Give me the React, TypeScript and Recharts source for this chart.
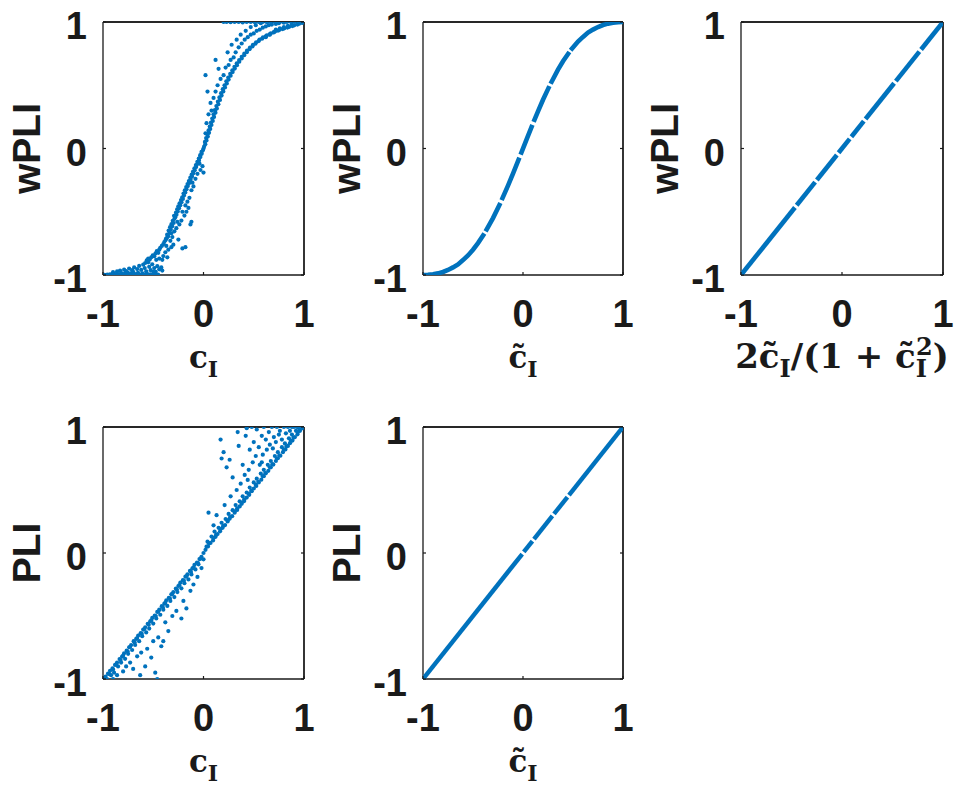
import React from 'react';
import { ScatterChart, Scatter, XAxis, YAxis, ReferenceLine } from 'recharts';

const BLUE = '#0072BD';
const INK = '#1a1a1a';
const AXIS_TICKS = [-1, 0, 1];
const Y_LABELS = ['wPLI', 'wPLI', 'wPLI', 'PLI', 'PLI'];

// Panel 1: wPLI vs c_I (scatter)
const wpliVsCi: [number, number][] = [
  // dense strip along the bottom
  [-1, -1], [-0.985, -0.999], [-0.972, -1], [-0.958, -0.996], [-0.947, -1], [-0.931, -0.994], [-0.918, -0.999],
  [-0.903, -0.991], [-0.889, -1], [-0.874, -0.996], [-0.861, -0.988], [-0.846, -1], [-0.83, -0.993], [-0.817, -0.985],
  [-0.802, -0.998], [-0.788, -0.99], [-0.771, -1], [-0.757, -0.982], [-0.742, -0.995], [-0.729, -0.987], [-0.713, -1],
  [-0.698, -0.978], [-0.684, -0.992], [-0.667, -0.999], [-0.652, -0.983], [-0.638, -0.994], [-0.621, -1],
  [-0.607, -0.986], [-0.593, -0.997], [-0.578, -1], [-0.561, -0.99], [-0.546, -1], [-0.53, -0.994], [-0.512, -1],
  [-0.497, -0.996], [-0.478, -1], [-0.463, -1], [-0.452, -0.997],
  [-0.9, -0.978], [-0.86, -0.972], [-0.83, -0.965], [-0.79, -0.958], [-0.77, -0.97], [-0.74, -0.949], [-0.71, -0.962],
  [-0.69, -0.94], [-0.66, -0.953], [-0.64, -0.928], [-0.62, -0.96], [-0.6, -0.918], [-0.585, -0.945], [-0.57, -0.972],
  [-0.55, -0.9], [-0.54, -0.935], [-0.525, -0.962], [-0.51, -0.915], [-0.49, -0.945], [-0.475, -0.975], [-0.46, -0.93],
  [-0.44, -0.955], [-0.42, -0.94], [-0.5, -0.975], [-0.41, -0.965],
  // lower band
  [-0.58, -0.905], [-0.565, -0.885], [-0.55, -0.87], [-0.535, -0.878], [-0.52, -0.86], [-0.505, -0.845],
  [-0.49, -0.852], [-0.478, -0.83], [-0.465, -0.812], [-0.45, -0.825], [-0.44, -0.8], [-0.43, -0.785],
  [-0.415, -0.77], [-0.4, -0.756], [-0.39, -0.74], [-0.378, -0.725], [-0.365, -0.708],
  [-0.47, -0.88], [-0.44, -0.87], [-0.41, -0.88], [-0.4, -0.85], [-0.36, -0.86], [-0.38, -0.82], [-0.35, -0.8],
  [-0.32, -0.78], [-0.37, -0.77], [-0.3, -0.76], [-0.21, -0.79], [-0.18, -0.78], [-0.33, -0.73], [-0.25, -0.72],
  [-0.372, -0.712], [-0.351, -0.694], [-0.362, -0.681], [-0.338, -0.667], [-0.347, -0.649], [-0.326, -0.641],
  [-0.333, -0.622], [-0.311, -0.615], [-0.319, -0.598], [-0.297, -0.589], [-0.306, -0.571], [-0.289, -0.556],
  [-0.281, -0.543], [-0.293, -0.532], [-0.269, -0.524], [-0.274, -0.507], [-0.256, -0.498], [-0.262, -0.481],
  [-0.243, -0.472], [-0.251, -0.458], [-0.231, -0.449], [-0.238, -0.433], [-0.219, -0.424], [-0.224, -0.408],
  [-0.205, -0.399], [-0.212, -0.386], [-0.194, -0.371], [-0.199, -0.356], [-0.181, -0.347], [-0.186, -0.331],
  [-0.169, -0.322], [-0.172, -0.305], [-0.156, -0.297], [-0.159, -0.281], [-0.141, -0.272], [-0.146, -0.257],
  [-0.129, -0.246], [-0.131, -0.231], [-0.114, -0.222], [-0.118, -0.207], [-0.101, -0.196], [-0.104, -0.182],
  [-0.087, -0.171], [-0.09, -0.156], [-0.073, -0.146], [-0.076, -0.131], [-0.059, -0.12], [-0.061, -0.105],
  [-0.045, -0.094], [-0.047, -0.079], [-0.031, -0.068], [-0.033, -0.053], [-0.018, -0.041], [-0.02, -0.027],
  [-0.006, -0.014], [0, 0],
  [-0.32, -0.67], [-0.29, -0.655], [-0.31, -0.7], [-0.27, -0.63], [-0.24, -0.6], [-0.26, -0.58], [-0.22, -0.57],
  [-0.13, -0.6], [-0.12, -0.58], [-0.19, -0.53], [-0.17, -0.5], [-0.21, -0.5], [-0.15, -0.47], [-0.18, -0.45],
  [-0.16, -0.42], [-0.14, -0.39], [-0.12, -0.33], [-0.1, -0.3], [-0.11, -0.27], [-0.08, -0.24], [-0.06, -0.2],
  [-0.03, -0.17], [-0.01, -0.14], [0.0, -0.19], [-0.04, -0.12],
  // upper band
  [0.006, 0.016], [0.018, 0.034], [0.014, 0.052], [0.03, 0.064], [0.026, 0.083], [0.043, 0.094], [0.038, 0.112],
  [0.055, 0.124], [0.05, 0.143], [0.067, 0.155], [0.062, 0.174], [0.079, 0.186], [0.074, 0.205], [0.092, 0.218],
  [0.087, 0.237], [0.105, 0.25], [0.1, 0.27], [0.119, 0.283], [0.113, 0.303], [0.133, 0.316], [0.128, 0.336],
  [0.148, 0.35], [0.143, 0.37], [0.164, 0.384], [0.158, 0.404], [0.18, 0.418], [0.175, 0.437], [0.197, 0.451],
  [0.192, 0.469], [0.214, 0.483], [0.209, 0.5], [0.232, 0.514], [0.227, 0.531], [0.25, 0.545], [0.246, 0.561],
  [0.27, 0.575], [0.266, 0.59], [0.29, 0.604], [0.287, 0.618], [0.311, 0.632], [0.308, 0.646], [0.333, 0.659],
  [0.331, 0.673], [0.356, 0.686], [0.355, 0.699], [0.38, 0.712], [0.38, 0.725], [0.405, 0.737], [0.406, 0.75],
  [0.431, 0.761], [0.433, 0.774], [0.458, 0.785], [0.462, 0.797], [0.487, 0.807], [0.492, 0.819], [0.517, 0.829],
  [0.524, 0.84], [0.549, 0.849], [0.557, 0.86], [0.583, 0.868], [0.592, 0.878], [0.619, 0.886], [0.63, 0.895],
  [0.657, 0.902], [0.67, 0.91], [0.698, 0.917], [0.712, 0.925], [0.741, 0.931], [0.757, 0.938], [0.787, 0.944],
  [0.804, 0.95], [0.835, 0.956], [0.853, 0.962], [0.884, 0.968], [0.903, 0.974], [0.935, 0.98], [0.952, 0.986],
  [0.98, 0.993], [1, 1],
  [0.02, 0.12], [0.03, 0.2], [0.05, 0.27], [0.08, 0.3], [0.07, 0.36], [0.1, 0.4], [0.04, 0.45], [0.12, 0.45],
  [0.14, 0.5], [0.02, 0.58], [0.17, 0.55], [0.2, 0.58], [0.15, 0.63], [0.22, 0.64], [0.25, 0.66], [0.12, 0.7],
  [0.27, 0.7], [0.3, 0.72], [0.24, 0.76], [0.32, 0.76], [0.35, 0.8], [0.28, 0.82], [0.38, 0.83], [0.33, 0.86],
  [0.41, 0.86], [0.44, 0.88], [0.37, 0.9], [0.47, 0.9], [0.5, 0.91], [0.42, 0.93], [0.53, 0.93], [0.56, 0.94],
  [0.47, 0.96], [0.59, 0.955], [0.62, 0.965], [0.52, 0.975], [0.65, 0.975], [0.68, 0.98], [0.72, 0.985],
  [0.57, 0.99], [0.75, 0.99], [0.8, 0.995],
  [0.62, 0.88], [0.66, 0.9], [0.7, 0.92], [0.72, 0.94], [0.76, 0.95], [0.8, 0.96], [0.84, 0.97], [0.88, 0.98],
  // strip along the top
  [0.2, 1], [0.23, 1], [0.27, 0.998], [0.31, 1], [0.35, 1], [0.39, 0.997], [0.43, 1], [0.47, 1], [0.51, 0.998],
  [0.55, 1], [0.59, 1], [0.63, 0.998], [0.67, 1], [0.71, 1], [0.75, 1], [0.79, 1], [0.83, 1], [0.87, 1], [0.91, 1],
  [0.95, 1],
];

// Panel 4: PLI vs c_I (scatter)
const pliVsCi: [number, number][] = [
  [-1, -1], [-0.975, -0.98], [-0.95, -0.958], [-0.93, -0.935], [-0.905, -0.915], [-0.88, -0.888], [-0.86, -0.87],
  [-0.835, -0.842], [-0.81, -0.822], [-0.79, -0.796], [-0.765, -0.775], [-0.74, -0.748], [-0.72, -0.73],
  [-0.695, -0.7], [-0.67, -0.682], [-0.65, -0.655], [-0.625, -0.636], [-0.6, -0.608], [-0.58, -0.59],
  [-0.555, -0.562], [-0.53, -0.542], [-0.51, -0.515], [-0.485, -0.496], [-0.46, -0.468], [-0.44, -0.45],
  [-0.415, -0.422], [-0.39, -0.402], [-0.37, -0.375], [-0.345, -0.356], [-0.32, -0.328], [-0.3, -0.31],
  [-0.275, -0.282], [-0.25, -0.262], [-0.23, -0.235], [-0.205, -0.216], [-0.18, -0.188], [-0.16, -0.17],
  [-0.135, -0.142], [-0.11, -0.122], [-0.09, -0.095], [-0.065, -0.076], [-0.04, -0.048], [-0.02, -0.03],
  [-0.985, -1], [-0.94, -0.96], [-0.9, -0.925], [-0.87, -0.885], [-0.825, -0.85], [-0.8, -0.815], [-0.755, -0.78],
  [-0.73, -0.745], [-0.685, -0.71], [-0.66, -0.675], [-0.615, -0.64], [-0.59, -0.605], [-0.545, -0.57],
  [-0.52, -0.535], [-0.475, -0.5], [-0.45, -0.465], [-0.405, -0.43], [-0.38, -0.395], [-0.335, -0.36],
  [-0.31, -0.325], [-0.265, -0.29], [-0.24, -0.255], [-0.195, -0.22], [-0.17, -0.185], [-0.125, -0.15],
  [-0.1, -0.115], [-0.055, -0.08], [-0.03, -0.045],
  [-0.96, -1], [-0.92, -0.97], [-0.89, -0.95], [-0.85, -0.9], [-0.82, -0.87], [-0.78, -0.84], [-0.75, -0.8],
  [-0.71, -0.77], [-0.68, -0.73], [-0.64, -0.7], [-0.61, -0.66], [-0.57, -0.63], [-0.54, -0.6], [-0.5, -0.56],
  [-0.47, -0.52], [-0.43, -0.49], [-0.4, -0.45], [-0.36, -0.42], [-0.33, -0.38], [-0.29, -0.35], [-0.26, -0.31],
  [-0.22, -0.28], [-0.19, -0.24], [-0.15, -0.21], [-0.12, -0.17], [-0.08, -0.13], [-0.05, -0.09],
  [-0.9, -1], [-0.86, -0.97], [-0.8, -0.94], [-0.77, -0.9], [-0.73, -0.87], [-0.7, -0.92], [-0.66, -0.82],
  [-0.63, -0.97], [-0.62, -0.79], [-0.58, -0.9], [-0.56, -0.76], [-0.52, -0.83], [-0.5, -0.7], [-0.48, -0.95],
  [-0.46, -1], [-0.45, -0.67], [-0.42, -0.74], [-0.4, -0.7], [-0.38, -0.55], [-0.35, -0.62], [-0.31, -0.5],
  [-0.27, -0.46], [-0.22, -0.52], [-0.2, -0.38], [-0.17, -0.44], [-0.13, -0.3], [-0.1, -0.25], [-0.06, -0.19],
  [-0.02, -0.12], [0, -0.05],
  [0, 0], [0.02, 0.025], [0.045, 0.052], [0.07, 0.08], [0.095, 0.1], [0.12, 0.128], [0.14, 0.15], [0.165, 0.172],
  [0.19, 0.2], [0.215, 0.222], [0.24, 0.25], [0.26, 0.272], [0.285, 0.292], [0.31, 0.32], [0.335, 0.342],
  [0.36, 0.37], [0.38, 0.39], [0.405, 0.412], [0.43, 0.44], [0.455, 0.462], [0.48, 0.49], [0.5, 0.512],
  [0.525, 0.532], [0.55, 0.56], [0.575, 0.582], [0.6, 0.61], [0.62, 0.632], [0.645, 0.652], [0.67, 0.68],
  [0.695, 0.702], [0.72, 0.73], [0.74, 0.752], [0.765, 0.772], [0.79, 0.8], [0.815, 0.822], [0.84, 0.85],
  [0.86, 0.872], [0.885, 0.892], [0.91, 0.92], [0.935, 0.942], [0.96, 0.97], [0.98, 0.99], [1, 1],
  [0.03, 0.05], [0.055, 0.075], [0.1, 0.12], [0.125, 0.145], [0.17, 0.19], [0.195, 0.215], [0.24, 0.26],
  [0.265, 0.285], [0.31, 0.33], [0.335, 0.355], [0.38, 0.4], [0.405, 0.425], [0.45, 0.47], [0.475, 0.495],
  [0.52, 0.54], [0.545, 0.565], [0.59, 0.61], [0.615, 0.635], [0.66, 0.68], [0.685, 0.705], [0.73, 0.75],
  [0.755, 0.775], [0.8, 0.82], [0.825, 0.845], [0.87, 0.89], [0.895, 0.915], [0.94, 0.96], [0.965, 0.985],
  [0.04, 0.09], [0.08, 0.13], [0.11, 0.17], [0.15, 0.2], [0.18, 0.24], [0.22, 0.27], [0.25, 0.31], [0.29, 0.34],
  [0.32, 0.38], [0.36, 0.41], [0.39, 0.45], [0.43, 0.48], [0.46, 0.52], [0.5, 0.56], [0.53, 0.59], [0.57, 0.63],
  [0.6, 0.66], [0.64, 0.7], [0.67, 0.73], [0.71, 0.77], [0.74, 0.8], [0.78, 0.84], [0.81, 0.87], [0.85, 0.91],
  [0.88, 0.94], [0.92, 0.97],
  [0.05, 0.32], [0.1, 0.22], [0.13, 0.3], [0.17, 0.9], [0.18, 0.75], [0.2, 0.8], [0.21, 0.38], [0.23, 0.68],
  [0.26, 0.74], [0.27, 0.45], [0.29, 0.6], [0.33, 0.5], [0.34, 0.96], [0.35, 0.85], [0.37, 0.55], [0.39, 0.7],
  [0.41, 0.62], [0.42, 0.93], [0.43, 0.99], [0.45, 0.66], [0.46, 0.82], [0.48, 1], [0.49, 0.72], [0.5, 0.88],
  [0.52, 0.77], [0.53, 0.98], [0.55, 0.84], [0.56, 0.7], [0.58, 0.93], [0.59, 0.78], [0.6, 1], [0.62, 0.9],
  [0.63, 0.82], [0.65, 0.96], [0.66, 0.86], [0.68, 1], [0.69, 0.83], [0.7, 0.92], [0.72, 0.88], [0.73, 1],
  [0.75, 0.94], [0.76, 0.97], [0.78, 0.9], [0.8, 1], [0.82, 0.95], [0.84, 1], [0.86, 0.97], [0.88, 1], [0.9, 1],
  [0.93, 1], [0.95, 0.99], [0.58, 0.72], [0.44, 0.58],
];

// Panel 2: wPLI vs c~_I (continuous curve with small gaps)
const wpliVsCt: [number, number][][] = [
  [[-1, -1], [-0.95, -0.999], [-0.9, -0.994], [-0.85, -0.987], [-0.8, -0.976], [-0.75, -0.96], [-0.7, -0.94],
    [-0.65, -0.916], [-0.6, -0.882], [-0.55, -0.845], [-0.5, -0.8], [-0.45, -0.748], [-0.386, -0.672]],
  [[-0.374, -0.656], [-0.3, -0.55], [-0.226, -0.43]],
  [[-0.214, -0.408], [-0.15, -0.293], [-0.1, -0.198], [-0.036, -0.072]],
  [[-0.024, -0.048], [0.04, 0.08], [0.094, 0.187]],
  [[0.106, 0.21], [0.15, 0.293], [0.2, 0.385], [0.264, 0.493]],
  [[0.276, 0.512], [0.35, 0.624], [0.4, 0.69], [0.464, 0.763]],
  [[0.476, 0.776], [0.55, 0.845], [0.6, 0.882], [0.65, 0.916], [0.7, 0.94], [0.75, 0.96], [0.8, 0.976],
    [0.85, 0.987], [0.9, 0.994], [0.95, 0.999], [1, 1]],
];

// Panel 3: wPLI vs 2c~/(1+c~^2) (straight line with small gaps)
const wpliVsRatio: [number, number][][] = [
  [[-1, -1], [-0.466, -0.466]],
  [[-0.449, -0.449], [-0.266, -0.266]],
  [[-0.249, -0.249], [-0.051, -0.051]],
  [[-0.034, -0.034], [0.076, 0.076]],
  [[0.093, 0.093], [0.216, 0.216]],
  [[0.233, 0.233], [0.516, 0.516]],
  [[0.533, 0.533], [0.766, 0.766]],
  [[0.783, 0.783], [1, 1]],
];

// Panel 5: PLI vs c~_I (straight line with small gaps)
const pliVsCt: [number, number][][] = [
  [[-1, -1], [-0.008, -0.008]],
  [[0.008, 0.008], [0.094, 0.094]],
  [[0.11, 0.11], [0.294, 0.294]],
  [[0.31, 0.31], [0.444, 0.444]],
  [[0.46, 0.46], [1, 1]],
];

const toPts = (arr: [number, number][]) => arr.map(([x, y]) => ({ x, y }));

const SANS = "Arial, 'Liberation Sans', Helvetica, sans-serif";
const SERIF = "'DejaVu Serif', serif";

const tickText = { fontFamily: SANS, fontWeight: 700, fontSize: 38, fill: INK } as const;
const fmt = (v: number) => (v < 0 ? '-' + Math.abs(v) : String(v));

const BottomTick = (props: any) => {
  const { x, y, payload } = props;
  return (
    <g>
      <line x1={x} x2={x} y1={y} y2={y - 3} stroke={INK} strokeWidth={1.2} />
      <text x={x} y={y + 52} textAnchor="middle" style={{ fontFamily: SANS }} {...tickText}>{fmt(payload.value)}</text>
    </g>
  );
};
const LeftTick = (props: any) => {
  const { x, y, payload } = props;
  return (
    <g>
      <line x1={x} x2={x + 3} y1={y} y2={y} stroke={INK} strokeWidth={1.2} />
      <text x={x - 16} y={y + 17} textAnchor="end" style={{ fontFamily: SANS }} {...tickText}>{fmt(payload.value)}</text>
    </g>
  );
};
const TopTick = (props: any) => {
  const { x, y } = props;
  return <line x1={x} x2={x} y1={y} y2={y + 3} stroke={INK} strokeWidth={1.2} />;
};
const RightTick = (props: any) => {
  const { x, y } = props;
  return <line x1={x} x2={x - 3} y1={y} y2={y} stroke={INK} strokeWidth={1.2} />;
};

const Dot = (props: any) => <circle cx={props.cx} cy={props.cy} r={2.1} fill={BLUE} />;
const NoDot = () => <g />;

type XLab = 'ci' | 'ct' | 'ratio';

const renderXLabel = (kind: XLab) => (props: any) => {
  const vb = props.viewBox || {};
  const cx = vb.x + vb.width / 2;
  const by = vb.y + 93;
  if (kind === 'ratio') {
    return (
      <text x={cx} y={by} textAnchor="middle" fontFamily={SERIF} fontWeight={700} fontSize={34} fill={INK}>
        2c{'\u0303'}
        <tspan fontSize={24} dy={9}>I</tspan>
        <tspan dy={-9}>/(1 + c{'\u0303'}</tspan>
        <tspan fontSize={24} dy={9}>I</tspan>
        <tspan fontSize={24} dx={-11} dy={-22}>2</tspan>
        <tspan dy={13}>)</tspan>
      </text>
    );
  }
  return (
    <text x={cx} y={by} textAnchor="middle" fontFamily={SERIF} fontWeight={700} fontSize={31} fill={INK}>
      {kind === 'ct' ? 'c\u0303' : 'c'}
      <tspan fontSize={22} dy={9}>I</tspan>
    </text>
  );
};

const renderYLabel = (text: string) => (props: any) => {
  const vb = props.viewBox || {};
  const x = vb.x + vb.width - 63;
  const y = vb.y + vb.height / 2;
  return (
    <text x={x} y={y} transform={`rotate(-90, ${x}, ${y})`} textAnchor="middle"
      style={{ fontFamily: SANS }} fontFamily={SANS} fontWeight={700} fontSize={39} fill={INK}>
      {text}
    </text>
  );
};

type PanelCfg = {
  left: number; top: number; w: number; h: number;
  ylabel: string; xlabel: XLab;
  points?: [number, number][];
  segments?: [number, number][][];
  lineWidth?: number;
};

const PANELS: PanelCfg[] = [
  { left: 103, top: 22, w: 201, h: 253, ylabel: Y_LABELS[0], xlabel: 'ci', points: wpliVsCi },
  { left: 423, top: 22, w: 200, h: 253, ylabel: Y_LABELS[1], xlabel: 'ct', segments: wpliVsCt, lineWidth: 4.6 },
  { left: 741, top: 22, w: 202, h: 253, ylabel: Y_LABELS[2], xlabel: 'ratio', segments: wpliVsRatio, lineWidth: 4.6 },
  { left: 103, top: 427, w: 201, h: 252, ylabel: Y_LABELS[3], xlabel: 'ci', points: pliVsCi },
  { left: 423, top: 427, w: 200, h: 252, ylabel: Y_LABELS[4], xlabel: 'ct', segments: pliVsCt, lineWidth: 4.4 },
];

const YW = 100;
const XH = 108;
const MT = 22;
const MR = 12;

const axisLineStyle = { stroke: INK, strokeWidth: 1.3 };

function Panel({ p }: { p: PanelCfg }) {
  const width = YW + p.w + MR;
  const height = MT + p.h + XH;
  return (
    <div style={{ position: 'absolute', left: p.left - YW, top: p.top - MT, width, height }}>
      <ScatterChart width={width} height={height} margin={{ top: MT - 1, right: MR - 1, bottom: 0, left: 0 }}>
        <XAxis type="number" dataKey="x" domain={[-1, 1]} ticks={AXIS_TICKS} interval={0}
          height={XH} tickSize={0} tickMargin={0} tickLine={false} axisLine={axisLineStyle}
          tick={(tp: any) => <BottomTick {...tp} />} label={renderXLabel(p.xlabel)} allowDataOverflow />
        <XAxis xAxisId="top" orientation="top" type="number" domain={[-1, 1]} ticks={AXIS_TICKS} interval={0}
          height={1} tickSize={0} tickMargin={0} tickLine={false} axisLine={axisLineStyle}
          tick={(tp: any) => <TopTick {...tp} />} allowDataOverflow />
        <YAxis type="number" dataKey="y" domain={[-1, 1]} ticks={AXIS_TICKS} interval={0}
          width={YW} tickSize={0} tickMargin={0} tickLine={false} axisLine={axisLineStyle}
          tick={(tp: any) => <LeftTick {...tp} />} label={renderYLabel(p.ylabel)} allowDataOverflow />
        <YAxis yAxisId="right" orientation="right" type="number" domain={[-1, 1]} ticks={AXIS_TICKS} interval={0}
          width={1} tickSize={0} tickMargin={0} tickLine={false} axisLine={axisLineStyle}
          tick={(tp: any) => <RightTick {...tp} />} allowDataOverflow />
        <ReferenceLine y={1} stroke={INK} strokeWidth={1.3} />
        <ReferenceLine x={1} stroke={INK} strokeWidth={1.3} />
        {p.points && (
          <Scatter data={toPts(p.points)} fill={BLUE} shape={Dot} isAnimationActive={false} />
        )}
        {p.segments &&
          p.segments.map((seg, i) => (
            <Scatter key={i} data={toPts(seg)} fill={BLUE} shape={NoDot}
              line={{ stroke: BLUE, strokeWidth: p.lineWidth || 4.4 }} isAnimationActive={false} />
          ))}
      </ScatterChart>
    </div>
  );
}

export default function App() {
  return (
    <div style={{ position: 'absolute', left: 0, top: 0, width: 957, height: 790, background: '#fff', overflow: 'hidden' }}>
      {PANELS.map((p, i) => (
        <Panel key={i} p={p} />
      ))}
    </div>
  );
}
